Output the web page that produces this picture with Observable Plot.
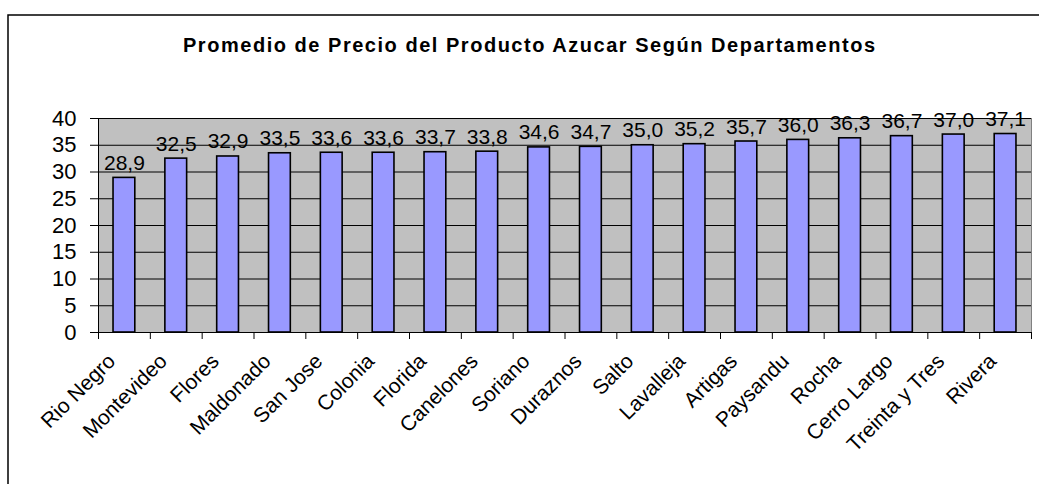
<!DOCTYPE html>
<html>
<head>
<meta charset="utf-8">
<script src="https://cdn.jsdelivr.net/npm/d3@7"></script>
<script src="https://cdn.jsdelivr.net/npm/@observablehq/plot@0.6"></script>
<style>
  html, body { margin: 0; padding: 0; background: #fff; }
  #chart { width: 1039px; height: 484px; overflow: hidden; }
</style>
</head>
<body>
<div id="chart"></div>
<script>
const titulo = "Promedio de Precio del Producto Azucar Según Departamentos";
const departamentos = ["Rio Negro","Montevideo","Flores","Maldonado","San Jose","Colonia","Florida","Canelones","Soriano","Duraznos","Salto","Lavalleja","Artigas","Paysandu","Rocha","Cerro Largo","Treinta y Tres","Rivera"];
const precios = [28.9,32.5,32.9,33.5,33.6,33.6,33.7,33.8,34.6,34.7,35.0,35.2,35.7,36.0,36.3,36.7,37.0,37.1];
const yTicks = [0,5,10,15,20,25,30,35,40];

const data = departamentos.map((d, i) => ({departamento: d, precio: precios[i]}));

const W = 1039, H = 484;
const mL = 98, mR = 8, mT = 118, mB = 152;
const step = (W - mL - mR) / departamentos.length;
const font = "'Liberation Sans', Arial, sans-serif";

const chart = Plot.plot({
  width: W,
  height: H,
  marginLeft: mL,
  marginRight: mR,
  marginTop: mT,
  marginBottom: mB,
  style: {fontFamily: font, background: "transparent", color: "#000", overflow: "visible"},
  x: {type: "band", domain: departamentos, paddingInner: 0.58, paddingOuter: 0.29, round: false, axis: null},
  y: {domain: [0, 40], axis: null},
  marks: [
    Plot.frame({fill: "#C0C0C0", stroke: "#808080"}),
    Plot.gridY(yTicks, {stroke: "#000", strokeOpacity: 1, strokeWidth: 1}),
    Plot.barY(data, {x: "departamento", y: "precio", fill: "#9999FF", stroke: "#000", strokeWidth: 1.6}),
    // left axis line
    Plot.ruleX([departamentos[0]], {x: d => d, y1: 0, y2: 40, dx: -step / 2, stroke: "#000"}),
    // bottom axis line
    Plot.ruleY([0], {stroke: "#000"}),
    // x ticks at category boundaries
    Plot.ruleX(departamentos, {x: d => d, y1: 0, y2: 0, insetBottom: -7, dx: -step / 2, stroke: "#000"}),
    Plot.ruleX([departamentos[departamentos.length - 1]], {x: d => d, y1: 0, y2: 0, insetBottom: -7, dx: step / 2, stroke: "#000"}),
    Plot.axisY(yTicks, {label: null, tickSize: 8, tickPadding: 14, fontSize: 22, tickFormat: d => String(d), stroke: "#000", fill: "#000"}),
    Plot.text(data, {
      x: "departamento", y: "precio",
      text: d => d.precio.toFixed(1).replace(".", ","),
      lineAnchor: "bottom", dy: -8, fontSize: 21, fill: "#000"
    }),
    Plot.text(departamentos, {
      x: d => d, frameAnchor: "bottom", text: d => d,
      rotate: -45, textAnchor: "end", lineAnchor: "bottom",
      dx: -8, dy: 30, fontSize: 21, fill: "#000"
    })
  ]
});

const svg = d3.select(chart);
svg.append("path")
  .attr("d", `M8,${H} V15 H${W}`)
  .attr("fill", "none")
  .attr("stroke", "#000")
  .attr("stroke-width", 1.5);
svg.append("text")
  .attr("x", 529)
  .attr("y", 52)
  .attr("text-anchor", "middle")
  .attr("font-family", font)
  .attr("font-weight", "bold")
  .attr("font-size", 20)
  .attr("textLength", 692)
  .attr("lengthAdjust", "spacing")
  .attr("fill", "#000")
  .text(titulo);

document.getElementById("chart").appendChild(chart);
</script>
</body>
</html>
